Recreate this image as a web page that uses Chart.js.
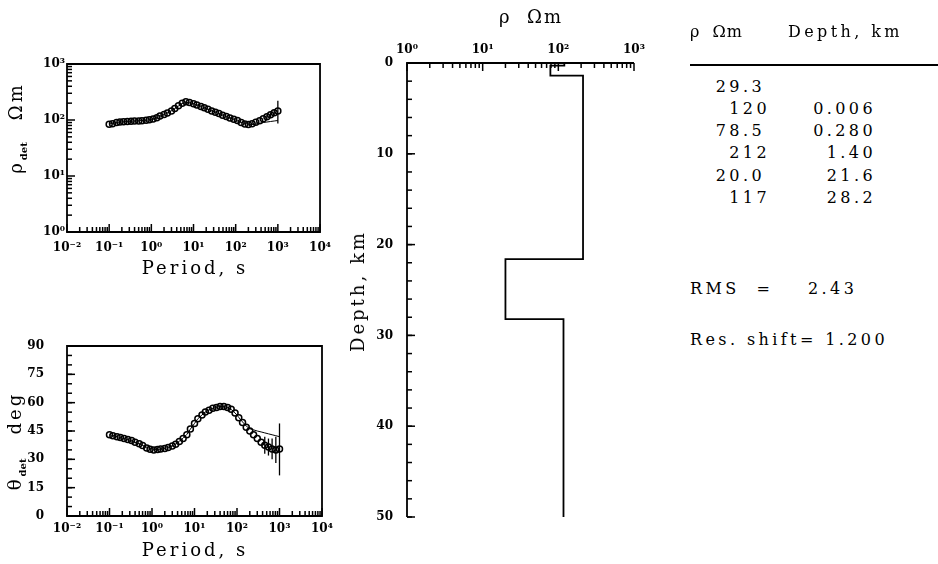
<!DOCTYPE html>
<html>
<head>
<meta charset="utf-8">
<script src="https://cdn.jsdelivr.net/npm/chart.js@4"></script>
<style>
  body { margin: 0; background: #fff; }
  #wrap { position: relative; width: 938px; height: 564px; overflow: hidden; font-family: 'DejaVu Serif', serif; color: #000; }
  canvas { position: absolute; }
  .t { position: absolute; white-space: nowrap; line-height: 1; font-size: 16px; letter-spacing: 3.4px; transform: translateY(-50%); }
  .r { text-align: right; }
  .ttl { position: absolute; white-space: nowrap; line-height: 1; font-size: 18px; letter-spacing: 3px; transform: translate(-50%, -50%); }
  .rot { transform: translate(-50%, -50%) rotate(-90deg); }
  sub { font-size: 10px; font-weight: bold; letter-spacing: 0; }
  #rule { position: absolute; left: 690px; top: 64px; width: 248px; height: 1.5px; background: #000; }
</style>
</head>
<body>
<div id="wrap">
  <canvas id="rhoChart" width="340" height="290" style="left:0;top:0"></canvas>
  <canvas id="phaseChart" width="340" height="274" style="left:0;top:290px"></canvas>
  <canvas id="modelChart" width="340" height="564" style="left:340px;top:0"></canvas>

  <div class="ttl rot" style="left:18px;top:128px">ρ<sub>det</sub><span style="margin-left:22px">Ωm</span></div>
  <div class="ttl" style="left:195px;top:268px">Period, s</div>
  <div class="ttl rot" style="left:17px;top:441px">θ<sub>det</sub><span style="margin-left:24px">deg</span></div>
  <div class="ttl" style="left:195px;top:550px">Period, s</div>
  <div class="ttl" style="left:531px;top:17px;letter-spacing:2px">ρ&nbsp;&nbsp;Ωm</div>
  <div class="ttl rot" style="left:358px;top:291px">Depth, km</div>

  <div class="t" style="left:690px;top:32px;letter-spacing:1px">ρ&nbsp;&nbsp;Ωm</div>
  <div class="t" style="left:788px;top:32px">Depth, km</div>
  <div id="rule"></div>
  <div class="t r" style="right:173px;top:87px">29.3</div>
  <div class="t r" style="right:168px;top:109px">120</div>
  <div class="t r" style="right:62px;top:109px">0.006</div>
  <div class="t r" style="right:173px;top:131px">78.5</div>
  <div class="t r" style="right:62px;top:131px">0.280</div>
  <div class="t r" style="right:168px;top:153px">212</div>
  <div class="t r" style="right:62px;top:153px">1.40</div>
  <div class="t r" style="right:173px;top:176px">20.0</div>
  <div class="t r" style="right:62px;top:176px">21.6</div>
  <div class="t r" style="right:168px;top:198px">117</div>
  <div class="t r" style="right:62px;top:198px">28.2</div>
  <div class="t" style="left:690px;top:289px">RMS&nbsp;&nbsp;=</div>
  <div class="t" style="left:808px;top:289px">2.43</div>
  <div class="t" style="left:690px;top:340px">Res. shift=&nbsp;1.200</div>
</div>
<script>
// sounding data, period in s
const periods = [0.1, 0.12, 0.15, 0.18, 0.22, 0.27, 0.33, 0.4, 0.5, 0.6, 0.75, 0.9,
  1.1, 1.35, 1.6, 2, 2.4, 3, 3.6, 4.4, 5.4, 6.6, 8, 10, 12, 15, 18, 22, 27, 33, 40, 49,
  60, 73, 90, 110, 135, 165, 200, 245, 300, 370, 450, 550, 670, 820, 1000];
const rhoObs = [84, 86, 90, 92, 93, 94, 95, 96, 96, 97, 99, 101,
  104, 110, 118, 125, 133, 145, 160, 180, 200, 212, 205, 195, 185, 175, 165, 155, 145, 138, 130, 122,
  115, 109, 103, 98, 90, 85, 83, 86, 91, 97, 105, 114, 124, 135, 145];
const rhoModel = [85, 87, 90, 92, 93, 94, 95, 96, 97, 98, 99, 101,
  104, 109, 117, 125, 134, 146, 160, 178, 196, 206, 204, 196, 186, 176, 166, 156, 146, 138, 130, 122,
  115, 109, 103, 97, 91, 87, 84, 83, 85, 87, 90, 92, 94, 96, 98];
const phaseObs = [43, 42.5, 42, 41.5, 41, 40.5, 40, 39, 38.3, 37.3, 36, 35.3,
  35, 35.2, 35.5, 35.8, 36.2, 37, 38, 39.5, 41, 43, 46, 49, 51.5, 53.5, 55, 56, 57, 57.5, 58, 58,
  57.5, 56.5, 54.5, 52, 49.5, 47, 45, 43, 41, 39, 37.5, 36.5, 35.5, 35, 35.5];
const phaseModel = [43, 42.6, 42, 41.5, 41, 40.4, 39.8, 39, 38.2, 37.4, 36.4, 35.7,
  35.3, 35.2, 35.4, 35.8, 36.3, 37.1, 38.1, 39.6, 41.2, 43.2, 46, 49, 51.5, 53.5, 55, 56.2, 57, 57.6, 58, 58,
  57.4, 56.4, 54.6, 52.2, 49.8, 47.6, 46.2, 45.6, 45, 44.5, 44, 43.5, 43, 42.5, 42];
const rhoErrPeriods = [550, 670, 820, 1000];
const rhoErrLo = [104, 112, 120, 87];
const rhoErrHi = [125, 137, 152, 220];
const phaseErrPeriods = [450, 550, 670, 820, 1000];
const phaseErrLo = [33, 32, 30, 28, 21.5];
const phaseErrHi = [42, 41, 41, 42, 49];

// layered model
const layerRho = [29.3, 120, 78.5, 212, 20.0, 117];
const layerTop = [0, 0.006, 0.280, 1.40, 21.6, 28.2];
const depthMax = 50;

// axis ticks
const periodTicks = [0.01, 0.1, 1, 10, 100, 1000, 10000];
const periodTickLabels = ['10⁻²', '10⁻¹', '10⁰', '10¹', '10²', '10³', '10⁴'];
const rhoTicks = [1, 10, 100, 1000];
const rhoTickLabels = ['10⁰', '10¹', '10²', '10³'];
const phaseTicks = [0, 15, 30, 45, 60, 75, 90];
const phaseTickLabels = ['0', '15', '30', '45', '60', '75', '90'];
const depthTicks = [0, 10, 20, 30, 40, 50];
const depthTickLabels = ['0', '10', '20', '30', '40', '50'];

const tickFont = { family: 'DejaVu Serif', size: 12, weight: 'bold' };

const minorLog = decades => {
  const out = [];
  for (let i = 0; i < decades.length - 1; i++)
    for (let k = 2; k <= 9; k++) out.push(decades[i] * k);
  return out;
};
const minorLin = (min, max, step) => {
  const out = [];
  for (let v = min; v <= max; v += step) out.push(v);
  return out;
};

// box, inward ticks and error bars
const frame = {
  id: 'frame',
  afterDatasetsDraw(chart, args, o) {
    const { ctx, chartArea: a, scales } = chart;
    ctx.save();
    ctx.strokeStyle = '#000';
    ctx.lineWidth = 1.3;
    (o.errors || []).forEach(e => {
      const x = scales.x.getPixelForValue(e.x);
      ctx.beginPath();
      ctx.moveTo(x, scales.y.getPixelForValue(e.lo));
      ctx.lineTo(x, scales.y.getPixelForValue(e.hi));
      ctx.stroke();
    });
    ctx.lineWidth = 1.8;
    ctx.beginPath();
    if (o.full) {
      ctx.rect(a.left, a.top, a.width, a.height);
    } else {
      ctx.moveTo(a.right, a.top);
      ctx.lineTo(a.left, a.top);
      ctx.lineTo(a.left, a.bottom);
    }
    ctx.stroke();
    ctx.lineWidth = 1.5;
    const xEdge = o.xSide === 'top' ? a.top : a.bottom;
    const dir = o.xSide === 'top' ? 1 : -1;
    const xt = (vals, len) => vals.forEach(v => {
      const px = scales.x.getPixelForValue(v);
      ctx.beginPath(); ctx.moveTo(px, xEdge); ctx.lineTo(px, xEdge + dir * len); ctx.stroke();
    });
    const yt = (vals, len) => vals.forEach(v => {
      const py = scales.y.getPixelForValue(v);
      ctx.beginPath(); ctx.moveTo(a.left, py); ctx.lineTo(a.left + len, py); ctx.stroke();
    });
    xt(o.xMajor, 8); xt(o.xMinor, 5);
    yt(o.yMajor, 8); yt(o.yMinor, 5);
    ctx.restore();
  }
};

function axis(type, min, max, ticks, labels, pad, fit, extra) {
  return Object.assign({
    type, min, max,
    grid: { display: false, drawTicks: false },
    border: { display: false },
    afterBuildTicks: s => { s.ticks = ticks.map(v => ({ value: v })); },
    afterFit: fit,
    ticks: {
      autoSkip: false, maxRotation: 0, minRotation: 0, padding: pad,
      color: '#000', font: tickFont,
      callback: (v, i) => labels[i]
    }
  }, extra || {});
}

const base = {
  responsive: false,
  animation: false,
  events: [],
  devicePixelRatio: 1,
  plugins: { legend: { display: false }, tooltip: { enabled: false } }
};

const toXY = (xs, ys) => xs.map((x, i) => ({ x, y: ys[i] }));
const errs = (xs, lo, hi) => xs.map((x, i) => ({ x, lo: lo[i], hi: hi[i] }));

const modelLine = data => ({
  data, showLine: true, borderColor: '#000', borderWidth: 1, pointRadius: 0
});
const obsPoints = data => ({
  data, showLine: false, pointRadius: 3, pointBorderWidth: 1.5,
  pointBorderColor: '#000', pointBackgroundColor: 'rgba(0,0,0,0)'
});

new Chart(document.getElementById('rhoChart'), {
  type: 'scatter',
  data: { datasets: [modelLine(toXY(periods, rhoModel)), obsPoints(toXY(periods, rhoObs))] },
  plugins: [frame],
  options: Object.assign({}, base, {
    layout: { padding: { top: 64, right: 18, left: 0, bottom: 0 } },
    scales: {
      x: axis('logarithmic', 0.01, 10000, periodTicks, periodTickLabels, 9, s => { s.height = 58; }, { position: 'bottom' }),
      y: axis('logarithmic', 1, 1000, rhoTicks, rhoTickLabels, 2, s => { s.width = 67; }, { position: 'left' })
    },
    plugins: Object.assign({}, base.plugins, {
      frame: {
        full: true, xSide: 'bottom',
        xMajor: periodTicks, xMinor: minorLog(periodTicks),
        yMajor: rhoTicks, yMinor: minorLog(rhoTicks),
        errors: errs(rhoErrPeriods, rhoErrLo, rhoErrHi)
      }
    })
  })
});

new Chart(document.getElementById('phaseChart'), {
  type: 'scatter',
  data: { datasets: [modelLine(toXY(periods, phaseModel)), obsPoints(toXY(periods, phaseObs))] },
  plugins: [frame],
  options: Object.assign({}, base, {
    layout: { padding: { top: 56, right: 18, left: 0, bottom: 0 } },
    scales: {
      x: axis('logarithmic', 0.01, 10000, periodTicks, periodTickLabels, 6, s => { s.height = 48; }, { position: 'bottom' }),
      y: axis('linear', 0, 90, phaseTicks, phaseTickLabels, 23, s => { s.width = 67; }, { position: 'left' })
    },
    plugins: Object.assign({}, base.plugins, {
      frame: {
        full: true, xSide: 'bottom',
        xMajor: periodTicks, xMinor: minorLog(periodTicks),
        yMajor: phaseTicks, yMinor: minorLin(0, 90, 5),
        errors: errs(phaseErrPeriods, phaseErrLo, phaseErrHi)
      }
    })
  })
});

const stepPts = [];
layerRho.forEach((r, i) => {
  const bottom = i < layerTop.length - 1 ? layerTop[i + 1] : depthMax;
  stepPts.push({ x: r, y: layerTop[i] }, { x: r, y: bottom });
});

new Chart(document.getElementById('modelChart'), {
  type: 'scatter',
  data: {
    datasets: [{ data: stepPts, showLine: true, borderColor: '#000', borderWidth: 1.8, pointRadius: 0 }]
  },
  plugins: [frame],
  options: Object.assign({}, base, {
    layout: { padding: { top: 0, right: 46, left: 0, bottom: 47 } },
    scales: {
      x: axis('logarithmic', 1, 1000, rhoTicks, rhoTickLabels, 6, s => { s.height = 63; }, { position: 'top' }),
      y: axis('linear', 0, depthMax, depthTicks, depthTickLabels, 14, s => { s.width = 67; }, { position: 'left', reverse: true })
    },
    plugins: Object.assign({}, base.plugins, {
      frame: {
        full: false, xSide: 'top',
        xMajor: rhoTicks, xMinor: minorLog(rhoTicks),
        yMajor: depthTicks, yMinor: minorLin(0, 50, 2)
      }
    })
  })
});
</script>
</body>
</html>
